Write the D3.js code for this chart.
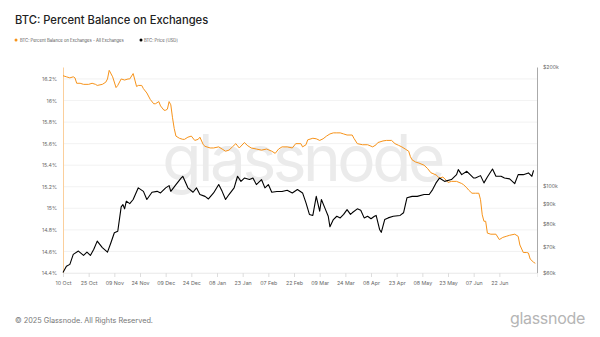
<!DOCTYPE html>
<html><head><meta charset="utf-8">
<script src="https://cdn.jsdelivr.net/npm/d3@7"></script>
<style>
html,body{margin:0;padding:0;background:#fff;}
svg{display:block;font-family:Inter, "Noto Sans", Arial, sans-serif;}
</style></head>
<body><svg id="chart" width="600" height="337"></svg>
<script>
const balanceData = [
["2024-10-10",16.23],["2024-10-12",16.22],["2024-10-14",16.21],["2024-10-16",16.22],["2024-10-17",16.21],
["2024-10-18",16.16],["2024-10-20",16.16],["2024-10-22",16.15],["2024-10-25",16.15],["2024-10-27",16.16],
["2024-10-29",16.15],["2024-10-30",16.14],["2024-11-02",16.15],["2024-11-04",16.17],["2024-11-05",16.20],
["2024-11-06",16.28],["2024-11-08",16.22],["2024-11-10",16.12],["2024-11-11",16.14],["2024-11-13",16.20],
["2024-11-15",16.19],["2024-11-17",16.20],["2024-11-18",16.20],["2024-11-20",16.25],["2024-11-21",16.19],
["2024-11-22",16.13],["2024-11-23",16.14],["2024-11-25",16.14],["2024-11-26",16.11],["2024-11-28",16.07],
["2024-11-30",16.01],["2024-12-02",15.97],["2024-12-03",15.97],["2024-12-05",15.99],["2024-12-06",15.95],
["2024-12-08",15.91],["2024-12-09",15.91],["2024-12-10",15.92],["2024-12-11",15.99],["2024-12-12",15.96],
["2024-12-13",15.84],["2024-12-14",15.74],["2024-12-15",15.67],["2024-12-17",15.65],["2024-12-19",15.64],
["2024-12-20",15.64],["2024-12-22",15.66],["2024-12-24",15.67],["2024-12-26",15.63],["2024-12-28",15.64],
["2024-12-29",15.66],["2024-12-31",15.59],["2025-01-01",15.575],["2025-01-04",15.56],["2025-01-06",15.56],
["2025-01-09",15.57],["2025-01-11",15.55],["2025-01-13",15.53],["2025-01-15",15.54],["2025-01-17",15.57],
["2025-01-19",15.60],["2025-01-20",15.58],["2025-01-21",15.56],["2025-01-24",15.61],["2025-01-26",15.58],
["2025-01-28",15.56],["2025-01-31",15.55],["2025-02-03",15.54],["2025-02-06",15.55],["2025-02-09",15.53],
["2025-02-11",15.51],["2025-02-13",15.55],["2025-02-15",15.57],["2025-02-18",15.57],["2025-02-21",15.56],
["2025-02-23",15.60],["2025-02-26",15.60],["2025-02-27",15.57],["2025-03-01",15.59],["2025-03-02",15.635],
["2025-03-05",15.65],["2025-03-07",15.645],["2025-03-09",15.63],["2025-03-11",15.645],["2025-03-13",15.67],
["2025-03-15",15.69],["2025-03-17",15.70],["2025-03-19",15.70],["2025-03-21",15.70],["2025-03-23",15.69],
["2025-03-25",15.68],["2025-03-28",15.68],["2025-03-29",15.65],["2025-03-31",15.60],["2025-04-03",15.59],
["2025-04-06",15.59],["2025-04-09",15.57],["2025-04-11",15.59],["2025-04-12",15.61],["2025-04-15",15.625],
["2025-04-17",15.63],["2025-04-20",15.63],["2025-04-22",15.60],["2025-04-24",15.585],["2025-04-26",15.57],
["2025-04-28",15.55],["2025-04-30",15.53],["2025-05-01",15.48],["2025-05-02",15.45],["2025-05-04",15.43],
["2025-05-06",15.42],["2025-05-09",15.40],["2025-05-11",15.37],["2025-05-13",15.33],["2025-05-16",15.31],
["2025-05-18",15.28],["2025-05-20",15.29],["2025-05-22",15.26],["2025-05-23",15.24],["2025-05-25",15.25],
["2025-05-28",15.25],["2025-05-31",15.23],["2025-06-01",15.22],["2025-06-03",15.19],["2025-06-04",15.17],
["2025-06-06",15.14],["2025-06-08",15.14],["2025-06-10",15.14],["2025-06-11",15.08],["2025-06-12",14.94],
["2025-06-13",14.88],["2025-06-14",14.88],["2025-06-15",14.77],["2025-06-17",14.76],["2025-06-20",14.76],
["2025-06-22",14.71],["2025-06-24",14.73],["2025-06-26",14.74],["2025-06-28",14.75],["2025-07-01",14.76],
["2025-07-03",14.74],["2025-07-04",14.66],["2025-07-06",14.59],["2025-07-08",14.59],["2025-07-09",14.585],
["2025-07-10",14.53],["2025-07-12",14.50],["2025-07-13",14.49]
];
// BTC price in thousands of USD
const priceData = [
["2024-10-10",60.2],["2024-10-12",62.4],["2024-10-14",63.1],["2024-10-16",66.9],["2024-10-19",68.2],
["2024-10-22",66.5],["2024-10-24",67.8],["2024-10-26",66.5],["2024-10-28",68.9],["2024-10-30",72.3],
["2024-11-02",69.6],["2024-11-05",67.8],["2024-11-07",71.6],["2024-11-09",75.9],["2024-11-11",76.6],
["2024-11-13",88.3],["2024-11-14",89.5],["2024-11-15",87.3],["2024-11-16",91.3],["2024-11-18",90.0],
["2024-11-20",92.2],["2024-11-23",98.7],["2024-11-26",96.7],["2024-11-28",92.2],["2024-12-01",96.2],
["2024-12-04",96.7],["2024-12-06",95.8],["2024-12-09",98.7],["2024-12-11",100.0],["2024-12-12",96.7],
["2024-12-15",100.6],["2024-12-18",104.5],["2024-12-19",105.6],["2024-12-22",98.7],["2024-12-25",96.2],
["2024-12-27",98.7],["2024-12-29",94.9],["2025-01-01",93.9],["2025-01-03",92.5],["2025-01-06",95.8],
["2025-01-09",100.6],["2025-01-11",96.7],["2025-01-13",92.2],["2025-01-15",94.9],["2025-01-18",98.7],
["2025-01-20",105.6],["2025-01-22",102.5],["2025-01-24",104.5],["2025-01-27",103.6],["2025-01-29",104.5],
["2025-01-31",100.6],["2025-02-03",103.6],["2025-02-05",98.7],["2025-02-07",100.6],["2025-02-09",96.2],
["2025-02-12",96.6],["2025-02-15",96.6],["2025-02-18",97.3],["2025-02-21",95.8],["2025-02-24",97.7],
["2025-02-27",95.8],["2025-03-01",90.4],["2025-03-03",84.5],["2025-03-05",84.0],["2025-03-07",93.9],
["2025-03-09",86.1],["2025-03-10",92.2],["2025-03-12",87.8],["2025-03-14",83.6],["2025-03-15",78.6],
["2025-03-17",82.0],["2025-03-19",83.6],["2025-03-21",82.8],["2025-03-23",84.5],["2025-03-25",86.9],
["2025-03-27",84.5],["2025-03-28",85.3],["2025-03-31",87.3],["2025-04-02",86.6],["2025-04-04",82.8],
["2025-04-06",83.6],["2025-04-08",82.4],["2025-04-10",83.6],["2025-04-11",84.0],["2025-04-13",77.4],
["2025-04-14",76.1],["2025-04-16",82.0],["2025-04-18",82.8],["2025-04-21",83.6],["2025-04-25",84.0],
["2025-04-27",85.3],["2025-04-29",93.1],["2025-05-02",93.9],["2025-05-05",93.9],["2025-05-09",94.9],
["2025-05-12",94.9],["2025-05-14",97.7],["2025-05-16",101.6],["2025-05-18",104.5],["2025-05-21",102.5],
["2025-05-25",103.6],["2025-05-28",106.6],["2025-05-29",109.8],["2025-05-31",106.6],["2025-06-03",108.7],
["2025-06-07",104.5],["2025-06-08",104.5],["2025-06-11",106.0],["2025-06-13",101.6],["2025-06-15",105.2],
["2025-06-18",110.2],["2025-06-20",105.6],["2025-06-23",105.6],["2025-06-25",104.5],["2025-06-28",104.0],
["2025-07-01",101.2],["2025-07-03",106.6],["2025-07-06",106.6],["2025-07-09",107.7],["2025-07-11",105.6],
["2025-07-12",109.3]
];
const xTickDates = ["2024-10-10","2024-10-25","2024-11-09","2024-11-24","2024-12-09","2024-12-24",
  "2025-01-08","2025-01-23","2025-02-07","2025-02-22","2025-03-09","2025-03-24","2025-04-08",
  "2025-04-23","2025-05-08","2025-05-23","2025-06-07","2025-06-22"];
const leftTicks = [14.4,14.6,14.8,15,15.2,15.4,15.6,15.8,16,16.2];
const rightTicks = [60,70,80,90,100,200];
const seriesNames = ["BTC: Percent Balance on Exchanges - All Exchanges","BTC: Price [USD]"];
const seriesColors = ["#f7931a","#000000"];

const parse = d3.utcParse("%Y-%m-%d");
const svg = d3.select("#chart");
const M = {left:63, right:537, top:67, bottom:273};

const x = d3.scaleUtc().domain([parse("2024-10-10"), parse("2025-07-14")]).range([M.left, M.right]);
const yL = d3.scaleLinear().domain([14.4, 16.311]).range([M.bottom, M.top]);
const yR = d3.scaleLog().domain([60, 200]).range([M.bottom, M.top]);

svg.append("rect").attr("width",600).attr("height",337).attr("fill","#fff");

// title
svg.append("text").attr("x",15).attr("y",24).attr("font-size",11.2).attr("fill","#222")
  .attr("font-weight",500).text("BTC: Percent Balance on Exchanges");

// legend
const leg = svg.append("g").attr("font-size",4.2).attr("fill","#555");
leg.append("circle").attr("cx",16).attr("cy",40).attr("r",1.5).attr("fill",seriesColors[0]);
leg.append("text").attr("x",20).attr("y",41.5).text(seriesNames[0]);
leg.append("circle").attr("cx",141).attr("cy",40).attr("r",1.5).attr("fill",seriesColors[1]);
leg.append("text").attr("x",144).attr("y",41.5).text(seriesNames[1]);

// gridlines
svg.append("g").selectAll("line").data(leftTicks).join("line")
  .attr("x1",M.left).attr("x2",M.right).attr("y1",d=>yL(d)).attr("y2",d=>yL(d))
  .attr("stroke","#efefef").attr("stroke-width",0.8);

// watermark
svg.append("text").attr("x",302).attr("y",181).attr("text-anchor","middle")
  .attr("font-size",64).attr("letter-spacing",-3.5).attr("font-weight",400)
  .attr("fill","#ebebeb").text("glassnode");

// left axis
const axL = d3.axisLeft(yL).tickValues(leftTicks).tickSize(0).tickPadding(6)
  .tickFormat(d=>d3.format("~")(d)+"%");
const gL = svg.append("g").attr("transform",`translate(${M.left},0)`).call(axL);
gL.select(".domain").attr("stroke","#fbcf9c").attr("stroke-width",1);
gL.selectAll("text").attr("font-size",5.2).attr("fill","#666").attr("font-family","Inter, Arial, sans-serif");

// right axis
const axR = d3.axisRight(yR).tickValues(rightTicks).tickSize(0).tickPadding(6)
  .tickFormat(d=>"$"+d+"k");
const gR = svg.append("g").attr("transform",`translate(${M.right},0)`).call(axR);
gR.select(".domain").attr("stroke","#aaa").attr("stroke-width",1);
gR.selectAll("text").attr("font-size",5.2).attr("fill","#666").attr("font-family","Inter, Arial, sans-serif");

// bottom axis
const axB = d3.axisBottom(x).tickValues(xTickDates.map(parse)).tickSize(4).tickPadding(4)
  .tickFormat(d3.utcFormat("%d %b"));
const gB = svg.append("g").attr("transform",`translate(0,${M.bottom})`).call(axB);
gB.select(".domain").attr("stroke","#eee");
gB.selectAll(".tick line").attr("stroke","#ddd");
gB.selectAll("text").attr("font-size",5.3).attr("fill","#666").attr("font-family","Inter, Arial, sans-serif");

// lines
const lineB = d3.line().x(d=>x(parse(d[0]))).y(d=>yL(d[1]));
const lineP = d3.line().x(d=>x(parse(d[0]))).y(d=>yR(d[1]));
svg.append("path").datum(balanceData).attr("d",lineB).attr("fill","none")
  .attr("stroke",seriesColors[0]).attr("stroke-width",1).attr("stroke-linejoin","round");
svg.append("path").datum(priceData).attr("d",lineP).attr("fill","none")
  .attr("stroke",seriesColors[1]).attr("stroke-width",1.1).attr("stroke-linejoin","round");

// footer
svg.append("text").attr("x",15).attr("y",323).attr("font-size",7.3).attr("fill","#777")
  .text("© 2025 Glassnode. All Rights Reserved.");
svg.append("text").attr("x",585).attr("y",324).attr("text-anchor","end").attr("font-size",16)
  .attr("fill","#b5b5b5").attr("letter-spacing",-0.3).text("glassnode");
</script></body></html>
